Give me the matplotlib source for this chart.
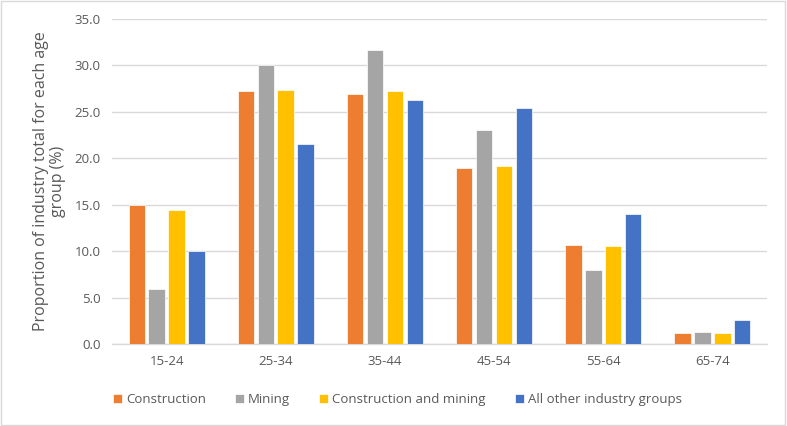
import matplotlib
matplotlib.use("Agg")
import matplotlib.pyplot as plt
import numpy as np

age_groups = ["15-24", "25-34", "35-44", "45-54", "55-64", "65-74"]
construction = [15.0, 27.2, 26.9, 18.9, 10.7, 1.2]
mining = [5.9, 30.0, 31.7, 23.0, 8.0, 1.3]
construction_and_mining = [14.4, 27.4, 27.2, 19.2, 10.5, 1.2]
all_other = [10.0, 21.5, 26.3, 25.4, 14.0, 2.6]

series = [
    ("Construction", construction, "#ED7D31"),
    ("Mining", mining, "#A5A5A5"),
    ("Construction and mining", construction_and_mining, "#FFC000"),
    ("All other industry groups", all_other, "#4472C4"),
]

plt.rcParams["font.family"] = ["Open Sans", "DejaVu Sans"]
text_color = "#595959"

fig = plt.figure(figsize=(7.87, 4.26), dpi=100)
ax = fig.add_axes([0.1423, 0.1925, 0.8323, 0.763])

x = np.arange(len(age_groups))
step = 0.182
for i, (name, values, color) in enumerate(series):
    ax.bar(x + (i - 1.5) * step, values, width=0.15, color=color,
           edgecolor="white", linewidth=0.5, label=name, zorder=3)

ax.set_xlim(-0.5, len(age_groups) - 0.5)
ax.set_ylim(0, 35)
ax.set_yticks(np.arange(0, 35.1, 5))
ax.set_yticklabels([f"{v:.1f}" for v in np.arange(0, 35.1, 5)])
ax.set_xticks(x)
ax.set_xticklabels(age_groups)
ax.tick_params(length=0, labelsize=9.5, colors=text_color, pad=8)
ax.grid(axis="y", color="#D9D9D9", linewidth=1, zorder=0)
for side in ["top", "right", "left"]:
    ax.spines[side].set_visible(False)
ax.spines["bottom"].set_color("#D9D9D9")
ax.spines["bottom"].set_linewidth(1)

ax.set_ylabel("Proportion of industry total for each age\ngroup (%)",
              fontsize=11.5, color=text_color, labelpad=6, linespacing=1.1)

fig.legend(loc="center", bbox_to_anchor=(0.505, 0.062), ncol=4, frameon=False,
           handlelength=0.7, handleheight=0.7, handletextpad=0.3,
           columnspacing=2.2, fontsize=9.5, labelcolor=text_color)

fig.patches.append(plt.Rectangle((0.001, 0.002), 0.997, 0.996, transform=fig.transFigure,
                                 fill=False, edgecolor="#D9D9D9", linewidth=1))

fig.savefig("out.png", dpi=100)
